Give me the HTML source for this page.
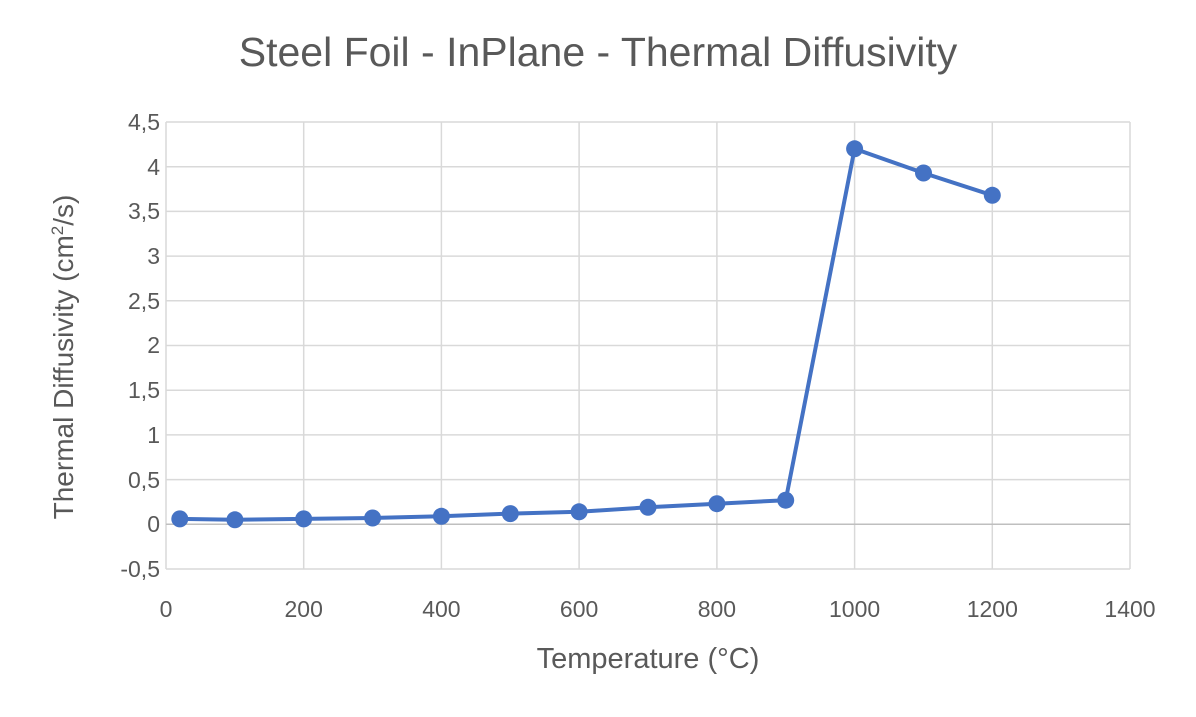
<!DOCTYPE html>
<html><head><meta charset="utf-8"><style>
html,body{margin:0;padding:0;background:#fff;}
svg{display:block;font-family:"Liberation Sans",sans-serif;}
</style></head><body>
<svg width="1196" height="717" viewBox="0 0 1196 717" xmlns="http://www.w3.org/2000/svg">
<rect width="1196" height="717" fill="#fff"/>
<text x="598" y="66" text-anchor="middle" font-size="41" fill="#595959">Steel Foil - InPlane - Thermal Diffusivity</text>
<g stroke="#d9d9d9" stroke-width="1.5">
<line x1="166" y1="122" x2="1130" y2="122"/>
<line x1="166" y1="166.7" x2="1130" y2="166.7"/>
<line x1="166" y1="211.4" x2="1130" y2="211.4"/>
<line x1="166" y1="256.1" x2="1130" y2="256.1"/>
<line x1="166" y1="300.8" x2="1130" y2="300.8"/>
<line x1="166" y1="345.5" x2="1130" y2="345.5"/>
<line x1="166" y1="390.2" x2="1130" y2="390.2"/>
<line x1="166" y1="434.9" x2="1130" y2="434.9"/>
<line x1="166" y1="479.6" x2="1130" y2="479.6"/>
<line x1="166" y1="569" x2="1130" y2="569"/>
<line x1="166" y1="122" x2="166" y2="569"/>
<line x1="303.7" y1="122" x2="303.7" y2="569"/>
<line x1="441.4" y1="122" x2="441.4" y2="569"/>
<line x1="579.1" y1="122" x2="579.1" y2="569"/>
<line x1="716.9" y1="122" x2="716.9" y2="569"/>
<line x1="854.6" y1="122" x2="854.6" y2="569"/>
<line x1="992.3" y1="122" x2="992.3" y2="569"/>
<line x1="1130" y1="122" x2="1130" y2="569"/>
</g>
<line x1="166" y1="524.3" x2="1130" y2="524.3" stroke="#bfbfbf" stroke-width="1.5"/>
<g font-size="23" fill="#595959" text-anchor="end">
<text x="160" y="130">4,5</text><text x="160" y="175">4</text><text x="160" y="219">3,5</text>
<text x="160" y="264">3</text><text x="160" y="309">2,5</text><text x="160" y="353">2</text>
<text x="160" y="398">1,5</text><text x="160" y="443">1</text><text x="160" y="488">0,5</text>
<text x="160" y="532">0</text><text x="160" y="577">-0,5</text>
</g>
<g font-size="23" fill="#595959" text-anchor="middle">
<text x="166" y="617">0</text><text x="303.7" y="617">200</text><text x="441.4" y="617">400</text>
<text x="579.1" y="617">600</text><text x="716.9" y="617">800</text><text x="854.6" y="617">1000</text>
<text x="992.3" y="617">1200</text><text x="1130" y="617">1400</text>
</g>
<text x="648" y="668" text-anchor="middle" font-size="29" fill="#595959">Temperature (°C)</text>
<text transform="translate(73,357) rotate(-90)" text-anchor="middle" font-size="28" fill="#595959">Thermal Diffusivity (cm<tspan font-size="17" dy="-10">2</tspan><tspan dy="10">/s)</tspan></text>
<polyline fill="none" stroke="#4472c4" stroke-width="4" stroke-linejoin="round" points="179.8,518.9 234.9,519.8 303.7,518.9 372.6,518 441.4,516.3 510.3,513.6 579.1,511.8 648,507.3 716.9,503.7 785.7,500.2 854.6,148.8 923.5,173 992.3,195.3"/>
<g fill="#4472c4">
<circle cx="179.8" cy="518.9" r="8.5"/><circle cx="234.9" cy="519.8" r="8.5"/><circle cx="303.7" cy="518.9" r="8.5"/>
<circle cx="372.6" cy="518" r="8.5"/><circle cx="441.4" cy="516.3" r="8.5"/><circle cx="510.3" cy="513.6" r="8.5"/>
<circle cx="579.1" cy="511.8" r="8.5"/><circle cx="648" cy="507.3" r="8.5"/><circle cx="716.9" cy="503.7" r="8.5"/>
<circle cx="785.7" cy="500.2" r="8.5"/><circle cx="854.6" cy="148.8" r="8.5"/><circle cx="923.5" cy="173" r="8.5"/>
<circle cx="992.3" cy="195.3" r="8.5"/>
</g>
</svg>
</body></html>
